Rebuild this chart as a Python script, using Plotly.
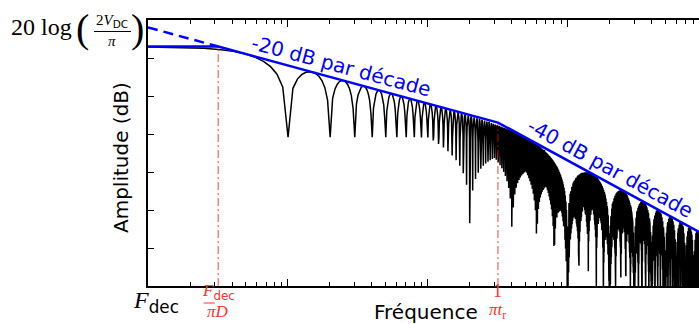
import numpy as np
import plotly.graph_objects as go

# ---- values ----
F_DEC = 1.0            # decoupage frequency (x axis origin)
DUTY = 0.1             # duty cycle D  (first null at 10*F_dec)
T_RISE = 0.001         # rise time t_r (in 1/F_dec units)
V_DC = 1.0
FREQ_STEP = 0.8368     # frequency sampling step of the plotted spectrum
N_SAMPLES = 10500

# asymptotes (blue)
asym_f = [1.0, 3.183, 318.3, 8730.0]
asym_db = [-13.98, -13.98, -53.98, -111.5]
dash_f = [1.0, 3.183]
dash_db = [-3.92, -13.98]

# red dash-dot markers
marker_f = [3.183, 318.3]
marker_top_db = [-13.98, -53.98]

# ticks
x_major = [1, 10, 100, 1000]
x_minor = [m * d for d in [1, 10, 100, 1000] for m in range(2, 10)]
y_ticks = [-20, -40, -60, -80, -100, -120]
x_range_log = [0.0, 3.941]
y_range = [-140, 0]

# spectrum of the trapezoidal PWM signal
freq = FREQ_STEP * np.arange(1, N_SAMPLES)
amp = 2 * V_DC * DUTY * np.abs(np.sinc(freq * DUTY / F_DEC)) * np.abs(np.sinc(freq * T_RISE))
db = 20 * np.log10(np.maximum(amp, 1e-14))

fig = go.Figure()
fig.add_trace(go.Scatter(x=freq, y=db, mode="lines",
                         line=dict(color="black", width=1.5), hoverinfo="skip"))
fig.add_trace(go.Scatter(x=asym_f, y=asym_db, mode="lines",
                         line=dict(color="#0000ff", width=2.5)))
fig.add_trace(go.Scatter(x=dash_f, y=dash_db, mode="lines",
                         line=dict(color="#0000ff", width=2.5, dash="10px,6px")))
for mf, mt in zip(marker_f, marker_top_db):
    fig.add_trace(go.Scatter(x=[mf, mf], y=[y_range[0], mt], mode="lines",
                             line=dict(color="rgba(255,0,0,0.5)", width=1.5,
                                       dash="8px,3px,2px,3px")))

L, R, T, B = 148, 699, 20, 286


def px(x):
    return (x - L) / (R - L)


def py(y):
    return (B - y) / (B - T)


SERIF = "Liberation Serif"
SANS = "DejaVu Sans"
RED = "#ff3030"
ann = []


def add(text, x, y, size, color="black", family=SANS, angle=0, xref="paper"):
    ann.append(dict(text=text, x=x if xref == "x" else px(x), y=py(y), xref=xref, yref="paper",
                    showarrow=False, font=dict(size=size, color=color, family=family),
                    textangle=angle, xanchor="center", yanchor="middle"))


# axis titles
add("Amplitude (dB)", 121, 158, 20, angle=-90)
add("Fréquence", 426, 312, 20)
# blue slope labels
add("-20 dB par décade", 341, 66, 20, color="#0000ff", angle=15)
add("-40 dB par décade", 610, 168, 20, color="#0000ff", angle=28.5)
# x tick labels
add('<i>F</i><sub><span style="font-family:DejaVu Sans">dec</span></sub>',
    np.log10(F_DEC) + 0.055, 302, 24, family=SERIF, xref="x")
add('<i>F</i><sub><span style="font-family:DejaVu Sans">dec</span></sub>',
    np.log10(marker_f[0]), 292, 17, color=RED, family=SERIF, xref="x")
add('<i>πD</i>', np.log10(marker_f[0]), 311, 17, color=RED, family=SERIF, xref="x")
add('1', np.log10(marker_f[1]), 291, 18, color=RED, family=SERIF, xref="x")
add('<i>πt</i><sub>r</sub>', np.log10(marker_f[1]), 311, 17, color=RED, family=SERIF, xref="x")
# 20 log(2V_DC / pi)
add("20 log", 41, 27, 24, family=SERIF)
add("(", 82, 28, 40, family=SERIF)
add(")", 137, 28, 40, family=SERIF)
add('2<i>V</i><sub><span style="font-family:DejaVu Sans">DC</span></sub>', 112, 21, 15, family=SERIF)
add('<i>π</i>', 112, 41, 15, family=SERIF)

shapes = [
    dict(type="line", xref="x", yref="paper", xsizemode="pixel", xanchor=np.log10(marker_f[0]),
         x0=-15, x1=15, y0=py(302.5), y1=py(302.5), line=dict(color=RED, width=1)),
    dict(type="line", xref="x", yref="paper", xsizemode="pixel", xanchor=np.log10(marker_f[1]),
         x0=-11, x1=11, y0=py(303), y1=py(303), line=dict(color=RED, width=1)),
    dict(type="line", xref="paper", yref="paper", x0=px(94), x1=px(131), y0=py(31.5), y1=py(31.5),
         line=dict(color="black", width=1)),
]

fig.update_layout(
    width=699, height=324, margin=dict(l=L, r=0, t=T, b=324 - B),
    paper_bgcolor="white", plot_bgcolor="white", showlegend=False,
    annotations=ann, shapes=shapes,
    xaxis=dict(type="log", range=x_range_log, showgrid=False, zeroline=False,
               showline=True, linecolor="black", linewidth=1.5, mirror="allticks",
               ticks="inside", tickvals=x_major, ticklen=7, tickwidth=1.2, tickcolor="black",
               showticklabels=False,
               minor=dict(ticks="inside", tickvals=x_minor, ticklen=4, tickwidth=1,
                          tickcolor="black", showgrid=False)),
    yaxis=dict(range=y_range, showgrid=False, zeroline=False,
               showline=True, linecolor="black", linewidth=1.5,
               ticks="inside", tickvals=y_ticks, ticklen=6, tickwidth=1.2, tickcolor="black",
               showticklabels=False),
)

fig.write_html("out.html", config={"displayModeBar": False},
               post_script="document.body.style.margin='0';")
